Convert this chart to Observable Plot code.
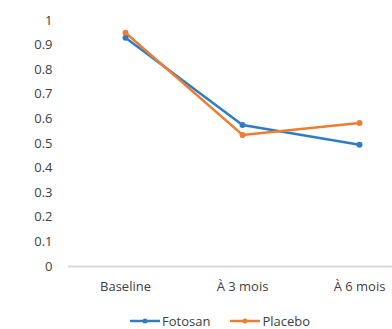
<!DOCTYPE html>
<html><head><meta charset="utf-8">
<script src="https://cdn.jsdelivr.net/npm/d3@7"></script>
<script src="https://cdn.jsdelivr.net/npm/@observablehq/plot@0.6"></script>
<style>
body{margin:0;background:#fff;font-family:"Open Sans",sans-serif;}
#legend{display:flex;justify-content:flex-start;gap:20px;padding-left:130px;font-size:13px;line-height:16px;color:#404040;height:16px;align-items:center;margin-top:13px}
#legend span{display:flex;align-items:center;gap:2px}
</style></head>
<body><div id="chart"></div><div id="legend"></div>
<script>
const categories = ["Baseline", "À 3 mois", "À 6 mois"];
const fotosan = [0.93, 0.575, 0.495];
const placebo = [0.95, 0.535, 0.583];
const seriesNames = ["Fotosan", "Placebo"];
const colors = ["#2E7DC4", "#ED7D31"];
const yTicks = [0, 0.1, 0.2, 0.3, 0.4, 0.5, 0.6, 0.7, 0.8, 0.9, 1];

const data = [];
categories.forEach((c, i) => {
  data.push({cat: c, value: fotosan[i], series: seriesNames[0]});
  data.push({cat: c, value: placebo[i], series: seriesNames[1]});
});

const chart = Plot.plot({
  width: 392, height: 300,
  marginTop: 20, marginBottom: 34, marginLeft: 68, marginRight: 0,
  style: {fontFamily: "Open Sans, sans-serif", fontSize: "13px", color: "#404040", background: "#fff"},
  x: {type: "point", domain: categories, range: [125, 359], padding: 0, label: null},
  y: {domain: [0, 1], label: null},
  color: {domain: seriesNames, range: colors},
  marks: [
    Plot.ruleY([0], {stroke: "#d9d9d9", strokeWidth: 2}),
    Plot.axisY({ticks: yTicks, tickSize: 0, tickPadding: 16, tickFormat: d => String(d), label: null}),
    Plot.axisX({tickSize: 0, tickPadding: 15, label: null}),
    Plot.line(data, {x: "cat", y: "value", stroke: "series", strokeWidth: 2.5}),
    Plot.dot(data, {x: "cat", y: "value", fill: "series", r: 3})
  ]
});
document.getElementById("chart").appendChild(chart);

const legend = document.getElementById("legend");
seriesNames.forEach((n, i) => {
  const s = document.createElement("span");
  s.innerHTML = `<svg width="30" height="10"><line x1="0" x2="30" y1="5" y2="5" stroke="${colors[i]}" stroke-width="2.5"/><circle cx="15" cy="5" r="2.5" fill="${colors[i]}"/></svg>${n}`;
  legend.appendChild(s);
});
</script></body></html>
